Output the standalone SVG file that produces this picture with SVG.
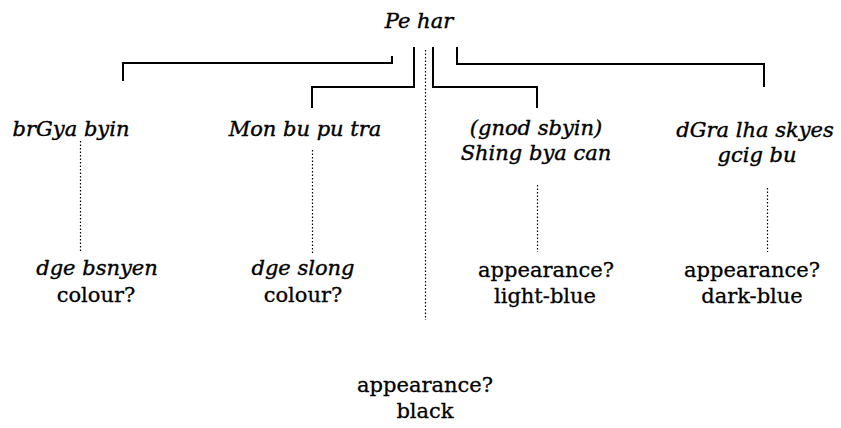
<svg xmlns="http://www.w3.org/2000/svg" width="841" height="428" viewBox="0 0 841 428">
<style>
.it{font-family:"DejaVu Serif","Liberation Serif",serif;font-style:italic;font-size:21px;fill:#000;stroke:#000;stroke-width:0.4;text-anchor:middle}
.rm{font-family:"DejaVu Serif","Liberation Serif",serif;font-size:21px;fill:#000;stroke:#000;stroke-width:0.3;text-anchor:middle}
.br{fill:none;stroke:#000;stroke-width:2}
.dt{fill:none;stroke:#000;stroke-width:1.2;stroke-dasharray:1.5 2}
</style>
<rect width="841" height="428" fill="#fff"/>
<g id="connectors">
<path class="br" d="M392 56 V63 H123 V81"/>
<path class="br" d="M414 47 V87 H312 V108"/>
<path class="br" d="M433 47 V87 H537 V108"/>
<path class="br" d="M457 47 V64 H764 V87"/>
<path class="dt" d="M425.5 50 V320"/>
<path class="dt" d="M80.5 141 V253"/>
<path class="dt" d="M312.5 150 V253"/>
<path class="dt" d="M537.5 185 V252"/>
<path class="dt" d="M767.5 188 V252"/>
</g>
<g id="pehar"><text class="it" x="419" y="28">Pe har</text></g>
<g id="brgya"><text class="it" x="71" y="136">brGya byin</text></g>
<g id="monbu"><text class="it" x="305" y="136">Mon bu pu tra</text></g>
<g id="shing"><text class="it" x="536" y="135">(gnod sbyin)</text><text class="it" x="536" y="160">Shing bya can</text></g>
<g id="dgra"><text class="it" x="755" y="137">dGra lha skyes</text><text class="it" x="757" y="162">gcig bu</text></g>
<g id="bsnyen"><text class="it" x="97" y="275">dge bsnyen</text><text class="rm" x="96" y="302">colour?</text></g>
<g id="slong"><text class="it" x="303" y="275">dge slong</text><text class="rm" x="303" y="302">colour?</text></g>
<g id="lightblue"><text class="rm" x="546" y="277">appearance?</text><text class="rm" x="545" y="303">light-blue</text></g>
<g id="darkblue"><text class="rm" x="752" y="277">appearance?</text><text class="rm" x="752" y="303">dark-blue</text></g>
<g id="black"><text class="rm" x="425" y="392">appearance?</text><text class="rm" x="425" y="418">black</text></g>
</svg>
